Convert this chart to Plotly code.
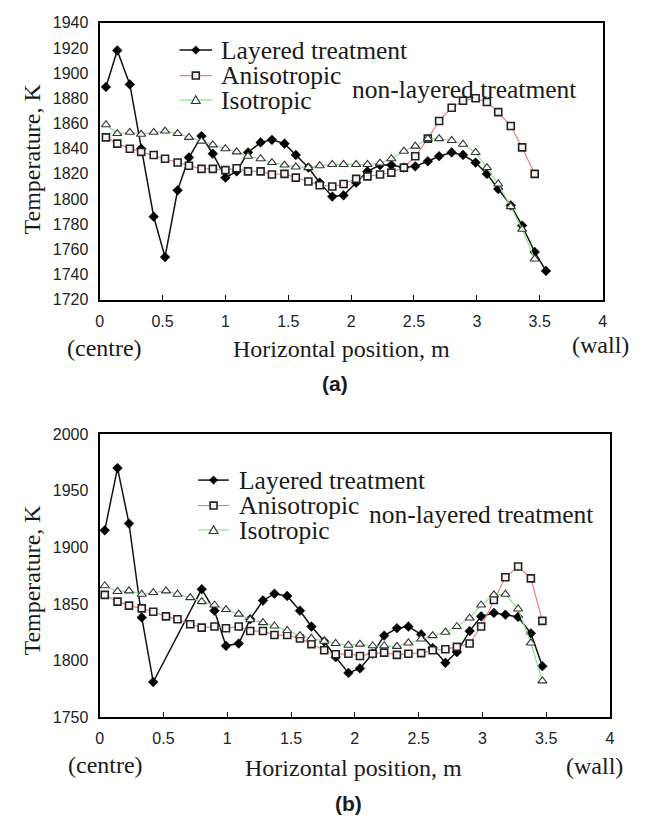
import plotly.graph_objects as go

W, H = 649, 827

# ---------------- data: panel (a) ----------------
x_a = [0.05, 0.14, 0.24, 0.33, 0.43, 0.52, 0.62, 0.71, 0.81, 0.90, 1.00, 1.09, 1.18,
       1.28, 1.37, 1.47, 1.56, 1.66, 1.75, 1.85, 1.94, 2.04, 2.13, 2.23, 2.32, 2.42,
       2.51, 2.61, 2.70, 2.80, 2.89, 2.99, 3.08, 3.17, 3.27, 3.36, 3.46]
x_a_layered = [0.05, 0.14, 0.24, 0.33, 0.43, 0.52, 0.62, 0.71, 0.81, 0.90, 1.00, 1.09, 1.18,
               1.28, 1.37, 1.47, 1.56, 1.66, 1.75, 1.85, 1.94, 2.04, 2.13, 2.23, 2.32, 2.42,
               2.51, 2.61, 2.70, 2.80, 2.89, 2.99, 3.08, 3.17, 3.27, 3.36, 3.46, 3.55]
layered_a = [1889, 1918, 1891, 1840, 1786, 1754, 1807, 1833, 1850, 1836, 1817, 1822, 1837,
             1845, 1847, 1844, 1835, 1825, 1813, 1802, 1803, 1813, 1822, 1827, 1827, 1825,
             1826, 1830, 1834, 1837, 1835, 1829, 1820, 1808, 1795, 1779, 1758, 1743]
aniso_a = [1849, 1844, 1840, 1837.5, 1835, 1832, 1829, 1826.5, 1824, 1824, 1823, 1824.5, 1822,
           1822, 1819.5, 1820, 1817, 1814, 1811, 1810, 1812, 1816, 1818, 1819.5, 1821, 1825,
           1834, 1848, 1862, 1872.5, 1878, 1880, 1877, 1869, 1858, 1841, 1820]
iso_a = [1859, 1852, 1853, 1851.5, 1853, 1854, 1852, 1849, 1846, 1843, 1840, 1837.5, 1834,
         1832, 1829, 1827, 1825.5, 1825, 1826.5, 1827.5, 1827.5, 1827.5, 1827.5, 1828.5, 1832, 1838,
         1842, 1848, 1848, 1846.5, 1843.5, 1837, 1825, 1812, 1794, 1776, 1752.5]

# ---------------- data: panel (b) ----------------
x_b = [0.04, 0.14, 0.23, 0.33, 0.42, 0.52, 0.61, 0.71, 0.80, 0.90, 0.99, 1.09, 1.18,
       1.28, 1.37, 1.47, 1.57, 1.66, 1.76, 1.85, 1.95, 2.04, 2.14, 2.23, 2.33, 2.42,
       2.52, 2.61, 2.71, 2.80, 2.90, 2.99, 3.09, 3.18, 3.28, 3.38, 3.47]
x_b_layered = [0.04, 0.14, 0.23, 0.33, 0.42, 0.80, 0.90, 0.99, 1.09, 1.18,
               1.28, 1.37, 1.47, 1.57, 1.66, 1.76, 1.85, 1.95, 2.04, 2.14, 2.23, 2.33, 2.42,
               2.52, 2.61, 2.71, 2.80, 2.90, 2.99, 3.09, 3.18, 3.28, 3.38, 3.47]
layered_b = [1915, 1970, 1921, 1838, 1781, 1863, 1844, 1813, 1815, 1836.5,
             1853, 1859, 1857, 1844, 1830, 1817, 1803, 1789, 1793, 1806, 1822, 1828.5, 1830,
             1823, 1811, 1798, 1807.5, 1826, 1839, 1842, 1840.5, 1838.5, 1824, 1795]
aniso_b = [1858, 1852, 1848.5, 1846, 1843, 1839, 1836.5, 1832, 1829, 1830, 1828.5, 1830, 1826,
           1826, 1822.5, 1822.5, 1819.5, 1814.5, 1809, 1805.5, 1806, 1804, 1806, 1807, 1805, 1806,
           1806.5, 1809, 1810, 1812, 1815, 1830, 1853.5, 1873.5, 1883, 1872.5, 1835]
iso_b = [1866, 1861, 1861.5, 1858.5, 1860, 1861.5, 1858.5, 1855.5, 1852, 1849, 1845, 1841, 1836,
         1833.5, 1830.5, 1826.5, 1822, 1819.5, 1817, 1815, 1813.5, 1814.5, 1813, 1813, 1812.5, 1815.5,
         1819, 1822, 1825, 1830, 1837.5, 1849, 1858, 1858.5, 1845.5, 1815.5, 1782]

# ---------------- ticks / labels ----------------
x_ticks = [0, 0.5, 1, 1.5, 2, 2.5, 3, 3.5, 4]
x_tick_labels = ["0", "0.5", "1", "1.5", "2", "2.5", "3", "3.5", "4"]
y_ticks_a = [1720, 1740, 1760, 1780, 1800, 1820, 1840, 1860, 1880, 1900, 1920, 1940]
y_ticks_b = [1750, 1800, 1850, 1900, 1950, 2000]
series_names = ["Layered treatment", "Anisotropic", "Isotropic"]

SERIF = "Liberation Serif, Times New Roman, serif"
SANS = "Liberation Sans, Arial, sans-serif"
RED = "#ee7f7f"
GREEN = "#8fe38f"


def px(x):
    return x / W


def py(y):
    return 1 - y / H


fig = go.Figure()

def add_panel(xs_l, yl, xs, ya, yi, xa, ya_name):
    fig.add_trace(go.Scatter(x=xs_l, y=yl, mode="lines+markers", name=series_names[0],
                             xaxis=xa, yaxis=ya_name, showlegend=False,
                             line=dict(color="#111111", width=1.5),
                             marker=dict(symbol="diamond", size=7.5, color="#000000",
                                         line=dict(color="#000000", width=0.5))))
    fig.add_trace(go.Scatter(x=xs, y=ya, mode="lines+markers", name=series_names[1],
                             xaxis=xa, yaxis=ya_name, showlegend=False,
                             line=dict(color=RED, width=1.2),
                             marker=dict(symbol="square", size=7, color="#f4f4f4",
                                         line=dict(color="#222222", width=1.6))))
    fig.add_trace(go.Scatter(x=xs, y=yi, mode="lines+markers", name=series_names[2],
                             xaxis=xa, yaxis=ya_name, showlegend=False,
                             line=dict(color=GREEN, width=1.2),
                             marker=dict(symbol="triangle-up", size=8, color="#ffffff",
                                         line=dict(color="#333333", width=1.1))))

add_panel(x_a_layered, layered_a, x_a, aniso_a, iso_a, "x", "y")
add_panel(x_b_layered, layered_b, x_b, aniso_b, iso_b, "x2", "y2")

axis_common = dict(showline=True, mirror=True, linecolor="#000000", linewidth=2.2,
                   showgrid=False, zeroline=False,
                   tickfont=dict(family=SANS, size=16, color="#222222"))

fig.update_layout(
    width=W, height=H, autosize=False,
    margin=dict(l=0, r=0, t=0, b=0),
    paper_bgcolor="white", plot_bgcolor="white",
    showlegend=False,
    xaxis=dict(domain=[px(97), px(607)], range=[0, 4], anchor="y",
               tickvals=x_ticks, ticktext=x_tick_labels, ticks="inside", ticklen=5,
               tickcolor="#000000", ticklabelstandoff=6, **axis_common),
    yaxis=dict(domain=[py(298), py(15)], range=[1720, 1940], anchor="x",
               tickvals=y_ticks_a, ticktext=[str(v) for v in y_ticks_a], ticks="",
               ticklabelstandoff=6, **axis_common),
    xaxis2=dict(domain=[px(97), px(614.5)], range=[0, 4], anchor="y2",
                tickvals=x_ticks, ticktext=x_tick_labels, ticks="inside", ticklen=5,
                tickcolor="#000000", ticklabelstandoff=6, **axis_common),
    yaxis2=dict(domain=[py(724), py(435)], range=[1750, 2000], anchor="x2",
                tickvals=y_ticks_b, ticktext=[str(v) for v in y_ticks_b], ticks="",
                ticklabelstandoff=6, **axis_common),
)

annotations = []
shapes = []


def text(x, y, s, size=24, family=SERIF, xanchor="center", angle=0, bold=False):
    annotations.append(dict(x=px(x), y=py(y), xref="paper", yref="paper", text=(f"<b>{s}</b>" if bold else s),
                            showarrow=False, xanchor=xanchor, yanchor="middle", textangle=angle,
                            borderpad=0,
                            font=dict(family=family, size=size, color="#1a1a1a")))


def legend(x0, x1, rows, text_x):
    cx = (x0 + x1) / 2
    colors = ["#111111", RED, GREEN]
    widths = [1.5, 1.2, 1.2]
    for k, ry in enumerate(rows):
        shapes.append(dict(type="line", xref="paper", yref="paper", x0=px(x0), x1=px(x1),
                           y0=py(ry), y1=py(ry), line=dict(color=colors[k], width=widths[k])))
        text(text_x, ry, series_names[k], size=25.5, xanchor="left")
    # diamond
    r = 4.3
    cy = rows[0]
    shapes.append(dict(type="path", xref="paper", yref="paper",
                       path=f"M {px(cx)},{py(cy - r)} L {px(cx + r)},{py(cy)} L {px(cx)},{py(cy + r)} L {px(cx - r)},{py(cy)} Z",
                       fillcolor="#000000", line=dict(color="#000000", width=0.5)))
    # square
    s = 3.5
    cy = rows[1]
    shapes.append(dict(type="rect", xref="paper", yref="paper", x0=px(cx - s), x1=px(cx + s),
                       y0=py(cy + s), y1=py(cy - s), fillcolor="#f4f4f4",
                       line=dict(color="#222222", width=1.6)))
    # triangle
    t = 4.5
    cy = rows[2]
    shapes.append(dict(type="path", xref="paper", yref="paper",
                       path=f"M {px(cx)},{py(cy - t)} L {px(cx + t)},{py(cy + 3.5)} L {px(cx - t)},{py(cy + 3.5)} Z",
                       fillcolor="#ffffff", line=dict(color="#333333", width=1.1)))


# panel (a) texts
legend(178, 211, [43, 69, 94], 219)
text(352, 83, "non-layered treatment", size=25.5, xanchor="left")
text(28, 154, "Temperature, K", angle=-90)
text(101.5, 347, "(centre)")
text(342, 348, "Horizontal position, m")
text(604.5, 344, "(wall)")
text(336, 383, "(a)", size=21, family=SANS, bold=True)

# panel (b) texts
legend(197, 228, [482, 508, 533], 237)
text(369, 517, "non-layered treatment", size=25.5, xanchor="left")
text(28, 584, "Temperature, K", angle=-90)
text(103, 773, "(centre)")
text(354, 776, "Horizontal position, m")
text(599, 774, "(wall)")
text(349, 812, "(b)", size=21, family=SANS, bold=True)

fig.update_layout(annotations=annotations, shapes=shapes)

fig.write_html("out.html", config={"displayModeBar": False},
               post_script="document.body.style.margin='0';document.body.style.padding='0';document.body.style.overflow='hidden';")
